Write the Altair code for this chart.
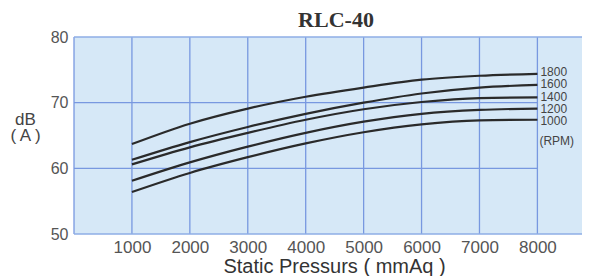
import altair as alt
import pandas as pd

pressure = [1000, 2000, 3000, 4000, 5000, 6000, 7000, 8000]
rpm_labels = ["1800", "1600", "1400", "1200", "1000"]
db_1800 = [63.7, 66.8, 69.1, 70.9, 72.3, 73.5, 74.1, 74.4]
db_1600 = [61.3, 64.0, 66.3, 68.3, 70.0, 71.4, 72.3, 72.7]
db_1400 = [60.6, 63.2, 65.4, 67.4, 69.0, 70.1, 70.7, 70.8]
db_1200 = [58.1, 60.9, 63.3, 65.4, 67.1, 68.3, 68.9, 69.1]
db_1000 = [56.4, 59.3, 61.7, 63.8, 65.5, 66.7, 67.3, 67.4]
series = [db_1800, db_1600, db_1400, db_1200, db_1000]
label_db = [74.67, 72.8, 70.93, 69.06, 67.19]
unit_db = [64.1]
y_ticks = [50, 60, 70, 80]
x_ticks = pressure
x_max = 8770

rows = []
for name, vals in zip(rpm_labels, series):
    for p, v in zip(pressure, vals):
        rows.append({"p": p, "db": v, "rpm": name})
df = pd.DataFrame(rows)
ends = pd.DataFrame({"p": [8000] * 5, "db": label_db, "rpm": rpm_labels})
rpm_unit = pd.DataFrame({"p": [8000], "db": unit_db, "t": ["(RPM)"]})

W, H = 508, 197
GRID = "#7898e0"

xs = alt.Scale(domain=[0, x_max], nice=False, zero=False)
ys = alt.Scale(domain=[50, 80], nice=False, zero=False)

vgrid = alt.Chart(pd.DataFrame({"p": [0] + pressure})).mark_rule(color=GRID, strokeWidth=1.3).encode(
    x=alt.X("p:Q", scale=xs), y=alt.datum(50), y2=alt.datum(80)
)
hgrid = alt.Chart(pd.DataFrame({"v": [60, 70]})).mark_rule(color=GRID, strokeWidth=1.3).encode(
    y=alt.Y("v:Q", scale=ys), x=alt.datum(0), x2=alt.datum(8000)
)
border = alt.Chart(pd.DataFrame({"v": [50, 80]})).mark_rule(color="#8eaee6", strokeWidth=1.3).encode(
    y=alt.Y("v:Q", scale=ys), x=alt.datum(0), x2=alt.datum(x_max)
)

lines = alt.Chart(df).mark_line(color="#2a2a2a", strokeWidth=2.2, interpolate="monotone").encode(
    x=alt.X("p:Q", scale=xs,
            axis=alt.Axis(values=x_ticks, format="d", grid=False, domain=False, ticks=False, tickSize=0,
                          labelPadding=5, labelFontSize=17, labelColor="#555555", labelFont="Liberation Sans",
                          title="Static Pressurs ( mmAq )", titleFontSize=20, titleColor="#333333",
                          titleFont="Liberation Sans", titleFontWeight="normal", titleX=260, titleY=22,
                          titleBaseline="top", titleAnchor="middle")),
    y=alt.Y("db:Q", scale=ys,
            axis=alt.Axis(values=y_ticks, grid=False, domain=False, ticks=False, tickSize=0,
                          labelPadding=6, labelFontSize=16, labelColor="#555555", labelFont="Liberation Sans",
                          title=["dB", "( A )"], titleAngle=0, titleFontSize=17, titleColor="#444444",
                          titleFont="Liberation Sans", titleFontWeight="normal", titleX=-49, titleY=74,
                          titleBaseline="top", titleAlign="center", titleLineHeight=16)),
    detail="rpm:N",
)

labels = alt.Chart(ends).mark_text(align="left", baseline="middle", dx=3, fontSize=12,
                                   color="#444444", font="Liberation Sans").encode(
    x=alt.X("p:Q", scale=xs), y=alt.Y("db:Q", scale=ys), text="rpm:N"
)
unit = alt.Chart(rpm_unit).mark_text(align="left", baseline="middle", dx=2, fontSize=12,
                                     color="#444444", font="Liberation Sans").encode(
    x=alt.X("p:Q", scale=xs), y=alt.Y("db:Q", scale=ys), text="t:N"
)

chart = alt.layer(vgrid, hgrid, border, lines, labels, unit).properties(
    width=W, height=H,
    title=alt.TitleParams("RLC-40", font="Liberation Serif", fontSize=22, fontWeight="bold",
                          color="#333333", anchor="middle", dx=8, offset=-3),
    autosize=alt.AutoSizeParams(type="none"),
    padding={"left": 66, "top": 29, "right": 0, "bottom": 42},
).configure(background="white").configure_view(fill="#d6e8f7", stroke=None)

chart.save("out.html", embed_options={"renderer": "svg", "actions": False})
